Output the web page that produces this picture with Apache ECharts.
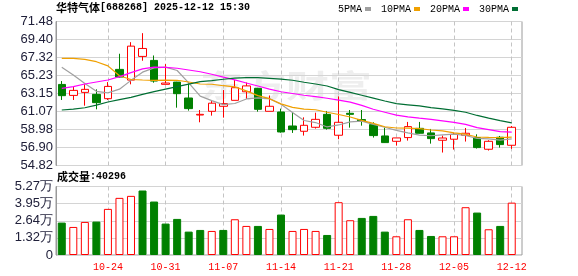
<!DOCTYPE html>
<html><head><meta charset="utf-8">
<script src="https://cdn.jsdelivr.net/npm/echarts@6/dist/echarts.min.js"></script>
<style>html,body{margin:0;padding:0;background:#fff}#c{width:578px;height:276px}</style>
</head><body><div id="c"></div>
<script>
const stockName = '华特气体';
const stockCode = '688268';
const timeStamp = '2025-12-12 15:30';
const volTitle = '成交量';
const lastVolume = 40296;

const dates = ['10-20','10-21','10-22','10-23','10-24','10-27','10-28','10-29','10-30','10-31',
  '11-03','11-04','11-05','11-06','11-07','11-10','11-11','11-12','11-13','11-14',
  '11-17','11-18','11-19','11-20','11-21','11-24','11-25','11-26','11-27','11-28',
  '12-01','12-02','12-03','12-04','12-05','12-08','12-09','12-10','12-11','12-12'];
const labelDates = ['10-24','10-31','11-07','11-14','11-21','11-28','12-05','12-12'];

const openP  = [64.20,62.93,63.28,63.05,62.55,65.94,64.70,67.44,66.98,64.21,
  64.47,62.63,60.66,61.09,61.67,62.36,63.35,63.75,61.09,61.01,
  59.39,58.78,59.24,60.74,58.32,60.86,60.13,59.55,58.24,57.62,
  58.05,59.12,58.59,57.74,57.86,58.32,58.05,56.70,58.09,57.16];
const closeP = [62.90,63.51,63.63,62.09,63.97,65.05,68.63,68.36,64.59,64.36,
  63.13,61.40,60.74,62.03,61.98,63.82,64.03,61.32,61.67,58.70,
  58.97,59.47,60.16,59.12,59.82,60.74,59.93,58.28,57.47,58.01,
  59.32,58.55,57.93,58.00,58.43,58.55,56.89,57.62,57.24,59.24];
const lowP   = [62.40,62.40,61.74,61.32,62.40,65.01,64.21,66.94,64.40,64.21,
  61.51,61.17,59.82,60.59,60.36,62.36,62.51,61.05,61.09,58.62,
  58.59,58.28,59.09,58.97,57.86,59.20,59.43,58.05,57.43,57.12,
  57.70,58.51,57.35,56.32,56.66,57.59,56.78,56.55,56.89,56.74];
const highP  = [64.59,63.90,64.21,63.63,64.47,67.75,69.09,70.13,67.55,66.55,
  64.50,64.32,61.24,62.28,63.55,64.70,64.42,63.80,62.92,61.40,
  61.01,60.39,60.93,61.13,62.82,61.24,61.24,59.82,59.20,58.01,
  59.86,59.86,59.05,58.28,58.59,59.16,58.43,57.74,58.24,59.39];
const volumes = [24950,21600,25460,25720,35500,43980,45520,49640,41150,24180,
  27780,18000,19290,18520,19290,27520,22380,22380,20060,31120,
  18520,20060,18520,15430,40640,26750,28550,30090,18000,14400,
  27520,19290,14660,14400,14400,36780,32660,19800,22380,40296];

const ma5  = [66.20,65.30,64.30,63.40,63.22,63.65,64.67,65.62,66.12,66.20,
  65.81,64.37,62.84,62.33,61.86,61.99,62.52,62.64,62.56,61.91,
  60.94,60.03,59.79,59.28,59.51,59.86,59.95,59.58,59.25,58.89,
  58.60,58.33,58.26,58.36,58.45,58.29,57.96,57.90,57.75,57.91];
const ma10 = [67.22,67.22,67.10,66.83,66.35,65.20,64.77,64.71,64.68,64.70,
  64.68,64.48,64.25,64.22,64.05,63.92,63.45,62.90,62.55,61.95,
  61.55,61.35,61.27,60.98,60.72,60.43,60.04,59.70,59.30,59.16,
  59.14,59.08,58.93,58.82,58.60,58.44,58.12,58.07,58.05,58.10];
const ma20 = [63.75,63.94,64.25,64.48,64.71,65.10,65.56,66.00,66.20,66.18,
  66.07,65.87,65.67,65.38,65.05,64.72,64.36,64.02,63.66,63.35,
  63.15,62.95,62.78,62.60,62.38,62.15,61.78,61.33,60.98,60.65,
  60.45,60.30,60.16,59.98,59.80,59.58,59.20,58.97,58.73,58.68];
const ma30 = [61.24,61.35,61.50,61.80,62.17,62.45,62.71,63.05,63.36,63.65,
  63.94,64.23,64.52,64.65,64.80,64.93,64.98,64.98,64.91,64.82,
  64.68,64.45,64.25,64.02,63.60,63.28,62.95,62.62,62.28,61.97,
  61.84,61.71,61.52,61.37,61.20,60.98,60.61,60.30,60.02,59.75];

const maNames = ['5PMA','10PMA','20PMA','30PMA'];
const maColors = ['#a0a0a0','#f0a000','#ff00ff','#006e33'];
const priceTicks = ['54.82','56.90','58.98','61.07','63.15','65.23','67.32','69.40','71.48'];
const volTicks = ['0','1.32万','2.64万','3.95万','5.27万'];
const priceMin = 54.82, priceMax = 71.48, volMax = 52728;

const UP = '#ff0000', DOWN = '#008000';
const candleData = dates.map((d, i) => [openP[i], closeP[i], lowP[i], highP[i]]);
const volData = volumes.map((v, i) => {
  const up = i === 0 ? closeP[i] >= openP[i] : closeP[i] >= closeP[i - 1];
  return { value: v, itemStyle: up ? { color: '#fff', borderColor: UP, borderWidth: 1 } : { color: DOWN, borderColor: DOWN, borderWidth: 1 } };
});

// layout
const L = 56, FRAME_W = 466, DATA_W = 461.5;
const band = DATA_W / dates.length;
const mainTop = 21.5, mainH = 144, volTop = 186.5, volH = 68.5;

const labelFont = { fontFamily: 'Liberation Sans', fontSize: 13, color: '#20203a' };
const frame = { show: true, borderColor: '#9a9a9a', borderWidth: 1, backgroundColor: 'transparent' };
const dashSplit = { show: true, interval: (i, v) => labelDates.indexOf(v) >= 0,
  lineStyle: { type: [4, 3], color: '#c4c4c4', width: 1 } };
const hiddenCat = { axisLine: { show: false }, axisTick: { show: false }, axisLabel: { show: false } };

const chart = echarts.init(document.getElementById('c'), null, { renderer: 'canvas' });
chart.setOption({
  animation: false,
  backgroundColor: '#fff',
  title: [
    { left: 56, top: 2, padding: 0,
      text: '{a|' + stockName + '}{b|[' + stockCode + '] ' + timeStamp + '}',
      textStyle: { rich: {
        a: { fontFamily: 'Noto Sans CJK SC', fontSize: 11, color: '#000' },
        b: { fontFamily: 'Liberation Mono', fontSize: 10, color: '#000' } } } },
    { left: 57, top: 171, padding: 0,
      text: '{a|' + volTitle + '}{b|:' + lastVolume + '}',
      textStyle: { rich: {
        a: { fontFamily: 'Noto Sans CJK SC', fontSize: 11, color: '#000' },
        b: { fontFamily: 'Liberation Mono', fontSize: 10, color: '#000' } } } }
  ],
  legend: {
    data: maNames, left: 338, top: 4, padding: 0, itemGap: 10,
    icon: 'rect', itemWidth: 6, itemHeight: 4, align: 'right',
    textStyle: { fontFamily: 'Liberation Mono', fontSize: 10, color: '#000', padding: [0, -2, 0, 0] },
    selectedMode: false
  },
  graphic: [{
    type: 'text', left: 200, top: 70, z: 0, silent: true,
    style: { text: '东方财富', font: 'bold 43px "Noto Sans CJK SC"', fill: 'rgba(150,150,150,0.16)' },
    scaleY: 0.72
  }],
  grid: [
    Object.assign({ left: L, top: mainTop, width: FRAME_W, height: mainH }, frame),
    { left: L, top: mainTop, width: DATA_W, height: mainH },
    Object.assign({ left: L, top: volTop, width: FRAME_W, height: volH }, frame),
    { left: L, top: volTop, width: DATA_W, height: volH },
    { left: L + band / 2, top: mainTop, width: DATA_W - band, height: mainH },
    { left: L + band / 2, top: volTop, width: DATA_W - band, height: volH }
  ],
  xAxis: [
    { gridIndex: 0, type: 'value', min: 0, max: 1, show: false },
    Object.assign({ gridIndex: 1, type: 'category', data: dates, boundaryGap: true, splitLine: { show: false } }, hiddenCat),
    { gridIndex: 2, type: 'value', min: 0, max: 1, show: false },
    { gridIndex: 3, type: 'category', data: dates, boundaryGap: true, axisLine: { show: false }, axisTick: { show: false }, splitLine: { show: false },
      axisLabel: { show: true, interval: (i, v) => labelDates.indexOf(v) >= 0, color: '#ff0000', fontFamily: 'Liberation Mono', fontSize: 10, margin: 7 } },
    Object.assign({ gridIndex: 4, type: 'category', data: dates, boundaryGap: false, splitLine: dashSplit }, hiddenCat),
    Object.assign({ gridIndex: 5, type: 'category', data: dates, boundaryGap: false, splitLine: dashSplit }, hiddenCat)
  ],
  yAxis: [
    { gridIndex: 0, type: 'value', min: 0, max: priceTicks.length - 1, interval: 1,
      axisLine: { show: true, lineStyle: { color: '#9a9a9a' } }, axisTick: { show: false },
      splitLine: { show: true, lineStyle: { color: '#d4d4d4', width: 1 } },
      axisLabel: Object.assign({ margin: 3, formatter: v => priceTicks[Math.round(v)] }, labelFont) },
    { gridIndex: 1, type: 'value', min: priceMin, max: priceMax, show: false, splitLine: { show: false } },
    { gridIndex: 2, type: 'value', min: 0, max: volTicks.length - 1, interval: 1,
      axisLine: { show: true, lineStyle: { color: '#9a9a9a' } }, axisTick: { show: false },
      splitLine: { show: true, lineStyle: { color: '#d4d4d4', width: 1 } },
      axisLabel: Object.assign({ margin: 3, formatter: v => volTicks[Math.round(v)] }, labelFont) },
    { gridIndex: 3, type: 'value', min: 0, max: volMax, show: false, splitLine: { show: false } },
    { gridIndex: 4, type: 'value', min: 0, max: 1, show: false },
    { gridIndex: 5, type: 'value', min: 0, max: 1, show: false }
  ],
  series: [
    { type: 'candlestick', name: 'K', xAxisIndex: 1, yAxisIndex: 1, data: candleData, barWidth: 8,
      itemStyle: { color: '#fff', color0: DOWN, borderColor: UP, borderColor0: DOWN, borderWidth: 1 } },
    ...maNames.map((n, k) => ({
      type: 'line', name: n, xAxisIndex: 1, yAxisIndex: 1,
      data: [ma5, ma10, ma20, ma30][k], symbol: 'none', showSymbol: false,
      lineStyle: { color: maColors[k], width: 1.2 }, itemStyle: { color: maColors[k] }, z: 3
    })),
    { type: 'bar', name: 'VOL', xAxisIndex: 3, yAxisIndex: 3, data: volData, barWidth: 8 },
    // empty helper series so the dashed date-grid axes are rendered
    { type: 'line', name: 'gridA', xAxisIndex: 4, yAxisIndex: 4, data: [], silent: true },
    { type: 'line', name: 'gridB', xAxisIndex: 5, yAxisIndex: 5, data: [], silent: true }
  ]
});
</script>
</body></html>
